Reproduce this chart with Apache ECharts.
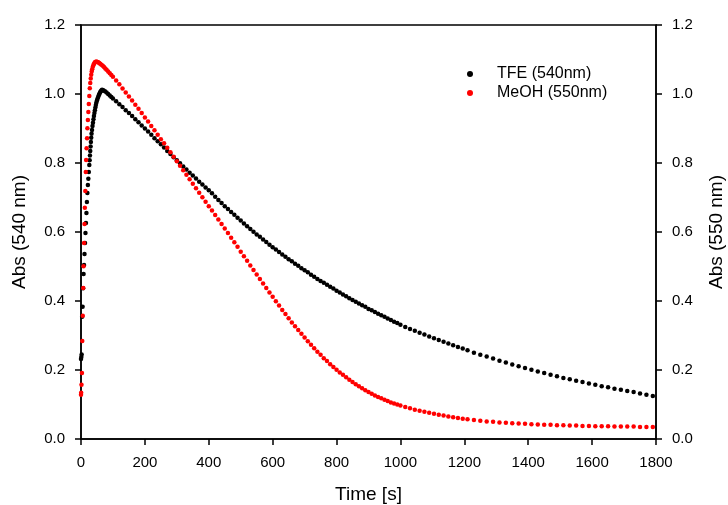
<!DOCTYPE html>
<html><head><meta charset="utf-8">
<script src="https://cdn.jsdelivr.net/npm/echarts@6/dist/echarts.min.js"></script>
<style>html,body{margin:0;padding:0;background:#fff}#c{width:728px;height:505px}</style>
</head><body><div id="c"></div>
<script>
// ---- data ----
const tfeEarlyTime = [0,1,2,3.5,5,6.5,8,9.5,11,12.5,14,15.5,17,18.5,20,21.5,23,24.5,26,27,28,29,30,31,32,33,34.5,36,37.5,39,40.5,42,43.5,45,46.5,48,50,52,54,56,58,60,62,64,66,70,75,80,85,90,95];
const tfeEarlyAbs = [0.232,0.238,0.245,0.354,0.383,0.437,0.478,0.504,0.536,0.568,0.597,0.626,0.655,0.687,0.713,0.736,0.754,0.774,0.794,0.808,0.822,0.835,0.848,0.861,0.873,0.885,0.896,0.907,0.917,0.927,0.936,0.945,0.953,0.961,0.968,0.975,0.981,0.987,0.992,0.997,1.001,1.005,1.008,1.010,1.012,1.011,1.008,1.004,1.000,0.996,0.991];

const meohEarlyTime = [0,0.5,1.5,3,4,5.5,7,8,9.5,11,12,13.5,15,16,17.5,19,20,21.5,23,24.5,26,27.5,29,30.5,32,33.5,35,37,39,41,43,45,48,51,54,57,60,64,68,72,76,80,85,90,95];
const meohEarlyAbs = [0.128,0.134,0.157,0.191,0.284,0.357,0.438,0.501,0.568,0.623,0.670,0.719,0.774,0.809,0.843,0.872,0.901,0.925,0.948,0.971,0.994,1.017,1.032,1.045,1.056,1.065,1.072,1.079,1.084,1.088,1.091,1.093,1.094,1.093,1.092,1.090,1.088,1.085,1.082,1.078,1.074,1.070,1.065,1.060,1.055];

const timeMain = [100,110,120,130,140,150,160,170,180,190,
200,210,220,230,240,250,260,270,280,290,
300,310,320,330,340,350,360,370,380,390,
400,410,420,430,440,450,460,470,480,490,
500,510,520,530,540,550,560,570,580,590,
600,610,620,630,640,650,660,670,680,690,
700,710,720,730,740,750,760,770,780,790,
800,810,820,830,840,850,860,870,880,890,
900,910,920,930,940,950,960,970,980,990,
1000,
1015,1030,1045,1060,1075,1090,1105,1120,1135,1150,1165,1180,1195,
1210,1230,1250,1270,1290,1310,1330,1350,1370,1390,
1410,1430,1450,1470,1490,1510,1530,1550,1570,1590,
1610,1630,1650,1670,1690,1710,1730,1750,1770,1790];

const tfeMainAbs = [0.987,0.979,0.970,0.962,0.953,0.945,0.936,0.927,0.918,0.909,
0.900,0.891,0.882,0.872,0.863,0.854,0.845,0.835,0.826,0.817,
0.808,0.799,0.790,0.781,0.772,0.764,0.755,0.746,0.738,0.729,
0.721,0.712,0.702,0.693,0.684,0.675,0.667,0.658,0.650,0.641,
0.633,0.625,0.617,0.609,0.601,0.593,0.586,0.578,0.571,0.563,
0.556,0.549,0.542,0.535,0.528,0.521,0.515,0.508,0.502,0.495,
0.489,0.483,0.476,0.470,0.464,0.458,0.453,0.447,0.441,0.436,
0.430,0.425,0.419,0.414,0.408,0.403,0.398,0.393,0.388,0.383,
0.377,0.373,0.368,0.363,0.359,0.354,0.349,0.345,0.340,0.336,
0.331,
0.325,0.319,0.314,0.308,0.303,0.297,0.292,0.287,0.282,0.277,0.272,0.267,0.262,
0.257,0.250,0.244,0.239,0.233,0.227,0.222,0.216,0.211,0.206,
0.201,0.196,0.191,0.186,0.182,0.177,0.173,0.169,0.165,0.161,
0.157,0.153,0.150,0.146,0.143,0.139,0.136,0.132,0.128,0.125];

const meohMainAbs = [1.050,1.039,1.028,1.016,1.004,0.993,0.981,0.969,0.957,0.945,
0.932,0.920,0.907,0.895,0.882,0.869,0.857,0.844,0.831,0.818,
0.805,0.792,0.779,0.766,0.753,0.740,0.727,0.714,0.701,0.688,
0.675,0.662,0.649,0.636,0.623,0.610,0.597,0.583,0.570,0.557,
0.543,0.530,0.517,0.503,0.490,0.477,0.464,0.451,0.438,0.425,
0.412,0.399,0.387,0.374,0.362,0.350,0.338,0.327,0.316,0.305,
0.294,0.283,0.273,0.263,0.253,0.244,0.234,0.226,0.217,0.209,
0.201,0.193,0.186,0.179,0.172,0.165,0.159,0.153,0.147,0.141,
0.136,0.131,0.126,0.122,0.118,0.114,0.110,0.106,0.103,0.100,
0.097,
0.093,0.089,0.085,0.082,0.079,0.076,0.073,0.070,0.068,0.065,0.063,0.061,0.059,
0.057,0.055,0.053,0.051,0.050,0.048,0.047,0.046,0.045,0.044,
0.043,0.042,0.041,0.041,0.040,0.040,0.039,0.039,0.038,0.038,
0.037,0.037,0.037,0.036,0.036,0.036,0.036,0.035,0.035,0.035];

const seriesNames = ['TFE (540nm)', 'MeOH (550nm)'];
const xTicks = {min: 0, max: 1800, interval: 200};
const yTicks = {min: 0, max: 1.2, interval: 0.2};

// ---- build ----
function zip(t, v) { return t.map((x, i) => [x, v[i]]); }
const tfeData = zip(tfeEarlyTime, tfeEarlyAbs).concat(zip(timeMain, tfeMainAbs));
const meohData = zip(meohEarlyTime, meohEarlyAbs).concat(zip(timeMain, meohMainAbs));

const FONT = 'Arial, "Liberation Sans", sans-serif';
const axisCommon = {
  axisLine: {show: true, onZero: false, lineStyle: {color: '#000', width: 1.5}},
  axisTick: {show: true, inside: false, length: 6, lineStyle: {color: '#000', width: 1.5}},
  splitLine: {show: false}
};

const chart = echarts.init(document.getElementById('c'), null, {renderer: 'canvas'});
chart.setOption({
  animation: false,
  backgroundColor: '#fff',
  textStyle: {fontFamily: FONT},
  grid: {left: 81, right: 72, top: 25, bottom: 66, containLabel: false, outerBoundsMode: 'none',
         show: true, borderColor: '#000', borderWidth: 1.5, backgroundColor: 'transparent'},
  legend: {
    orient: 'vertical', left: 462, top: 61, itemWidth: 44, itemHeight: 6, itemGap: 3,
    icon: 'circle', selectedMode: false,
    textStyle: {fontSize: 16, color: '#000', fontFamily: FONT, lineHeight: 16, padding: 0},
    data: seriesNames
  },
  xAxis: Object.assign({
    type: 'value', min: xTicks.min, max: xTicks.max, interval: xTicks.interval,
    name: 'Time [s]', nameLocation: 'middle', nameGap: 46,
    nameTextStyle: {fontSize: 19, color: '#000', fontFamily: FONT},
    axisLabel: {fontSize: 15, color: '#000', margin: 16, fontFamily: FONT, formatter: v => String(v)}
  }, axisCommon),
  yAxis: [
    Object.assign({
      type: 'value', position: 'left', min: yTicks.min, max: yTicks.max, interval: yTicks.interval,
      name: 'Abs (540 nm)', nameLocation: 'middle', nameGap: 52, nameRotate: 90,
      nameTextStyle: {fontSize: 19, color: '#000', fontFamily: FONT},
      axisLabel: {fontSize: 15, color: '#000', margin: 16, fontFamily: FONT, formatter: v => v.toFixed(1)}
    }, axisCommon),
    Object.assign({
      type: 'value', position: 'right', min: yTicks.min, max: yTicks.max, interval: yTicks.interval,
      name: 'Abs (550 nm)', nameLocation: 'middle', nameGap: 51, nameRotate: 90,
      nameTextStyle: {fontSize: 19, color: '#000', fontFamily: FONT},
      axisLabel: {fontSize: 15, color: '#000', margin: 16, fontFamily: FONT, formatter: v => v.toFixed(1)}
    }, axisCommon)
  ],
  series: [
    {name: seriesNames[0], type: 'scatter', yAxisIndex: 0, symbol: 'circle', symbolSize: 4.5,
     itemStyle: {color: '#000000', opacity: 1}, data: tfeData},
    {name: seriesNames[1], type: 'scatter', yAxisIndex: 1, symbol: 'circle', symbolSize: 4.5,
     itemStyle: {color: '#ff0000', opacity: 1}, data: meohData}
  ]
});
</script></body></html>
